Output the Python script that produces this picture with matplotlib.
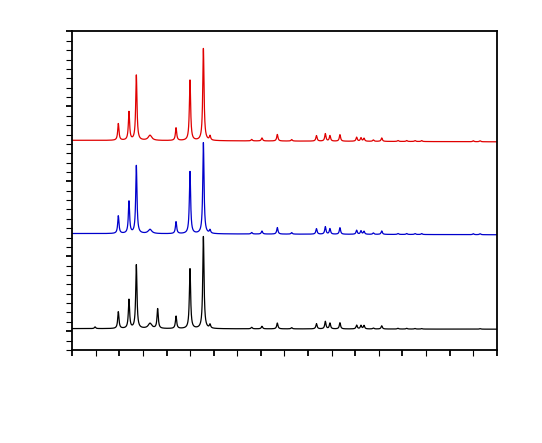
import numpy as np
import matplotlib
matplotlib.use('Agg')
import matplotlib.pyplot as plt
from matplotlib.ticker import MultipleLocator, NullFormatter

# peak lists: 2theta (deg), height (a.u.)
red_pos = [9.88, 11.01, 11.79, 13.24, 16.0, 17.48, 18.90, 19.60,
           24.02, 25.11, 26.74, 28.26, 30.89, 31.83, 32.32, 33.38,
           35.15, 35.61, 35.93, 36.92, 37.81, 39.53, 40.46, 41.34, 42.05, 47.52, 48.23]
red_h = [1.79, 3.03, 6.98, 0.55, 1.36, 6.45, 9.84, 0.46,
         0.16, 0.32, 0.70, 0.16, 0.59, 0.80, 0.59, 0.70,
         0.43, 0.37, 0.32, 0.15, 0.37, 0.10, 0.10, 0.10, 0.10, 0.10, 0.10]

blue_pos = red_pos
blue_h = [1.89, 3.42, 7.27, 0.45, 1.28, 6.63, 9.73, 0.36,
          0.16, 0.32, 0.70, 0.16, 0.59, 0.80, 0.59, 0.70,
          0.43, 0.37, 0.32, 0.15, 0.37, 0.10, 0.10, 0.10, 0.10, 0.10, 0.10]

black_pos = [7.41, 9.88, 11.01, 11.79, 13.24, 14.05, 16.0, 17.48, 18.90, 19.60,
             24.02, 25.11, 26.74, 28.26, 30.89, 31.83, 32.32, 33.38,
             35.15, 35.61, 35.93, 36.92, 37.81, 39.53, 40.46, 41.34, 42.05, 48.23]
black_h = [0.18, 1.79, 3.07, 6.81, 0.55, 2.10, 1.33, 6.38, 9.84, 0.40,
           0.16, 0.27, 0.62, 0.13, 0.56, 0.80, 0.62, 0.66,
           0.41, 0.37, 0.37, 0.10, 0.34, 0.08, 0.08, 0.06, 0.05, 0.05]

# baseline (start, end) for each stacked pattern
red_base = (22.38, 22.22)
blue_base = (12.43, 12.30)
black_base = (2.28, 2.22)

two_theta = np.linspace(5, 50, 4000)


def pattern(pos, h, base):
    y = np.linspace(base[0], base[1], two_theta.size)
    for p, a in zip(pos, h):
        w = 0.45 if abs(p - 13.24) < 0.01 else 0.16
        y = y + a / (1 + ((two_theta - p) / (w / 2)) ** 2)
    return y


fig = plt.figure(figsize=(5.42, 4.43), dpi=100)
ax = fig.add_axes([0.1334, 0.21, 0.783, 0.719])

ax.plot(two_theta, pattern(black_pos, black_h, black_base), color='black', lw=0.9)
ax.plot(two_theta, pattern(blue_pos, blue_h, blue_base), color='#0000cc', lw=0.9)
ax.plot(two_theta, pattern(red_pos, red_h, red_base), color='#e00000', lw=0.9)

ax.set_xlim(5, 50)
ax.set_ylim(0, 34)
ax.xaxis.set_major_locator(MultipleLocator(5))
ax.xaxis.set_minor_locator(MultipleLocator(2.5))
ax.yaxis.set_major_locator(MultipleLocator(8, offset=2))
ax.yaxis.set_minor_locator(MultipleLocator(1))
ax.xaxis.set_major_formatter(NullFormatter())
ax.yaxis.set_major_formatter(NullFormatter())
ax.tick_params(which='both', direction='out', top=False, right=False, length=4.5)
ax.tick_params(which='major', width=1.3)
ax.tick_params(which='minor', width=0.8)
for s in ax.spines.values():
    s.set_linewidth(1.3)

plt.savefig('out.png', dpi=100)
